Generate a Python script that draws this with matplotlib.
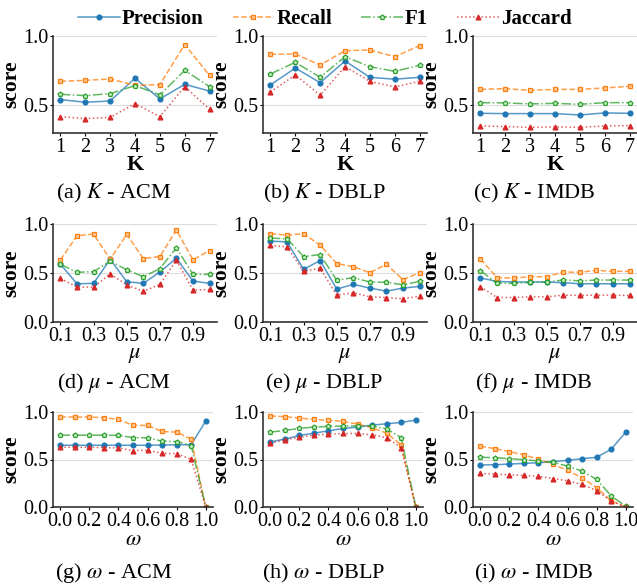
import matplotlib
matplotlib.use("Agg")
import matplotlib.pyplot as plt

plt.rcParams['font.family'] = ['Liberation Serif', 'DejaVu Serif']
plt.rcParams['mathtext.fontset'] = 'stix'

metrics = ['Precision', 'Recall', 'F1', 'Jaccard']

# parameter K (1..7)
k_vals = [1, 2, 3, 4, 5, 6, 7]
k_acm = {
    'Precision': [0.541, 0.522, 0.531, 0.695, 0.546, 0.651, 0.603],
    'Recall':    [0.673, 0.680, 0.690, 0.644, 0.649, 0.938, 0.716],
    'F1':        [0.579, 0.570, 0.584, 0.642, 0.575, 0.752, 0.635],
    'Jaccard':   [0.418, 0.404, 0.413, 0.512, 0.418, 0.635, 0.471],
}
k_dblp = {
    'Precision': [0.647, 0.769, 0.663, 0.820, 0.702, 0.688, 0.702],
    'Recall':    [0.868, 0.870, 0.791, 0.894, 0.899, 0.851, 0.930],
    'F1':        [0.726, 0.810, 0.702, 0.851, 0.779, 0.745, 0.788],
    'Jaccard':   [0.596, 0.719, 0.572, 0.779, 0.673, 0.632, 0.673],
}
k_imdb = {
    'Precision': [0.442, 0.440, 0.440, 0.440, 0.430, 0.445, 0.442],
    'Recall':    [0.615, 0.620, 0.608, 0.615, 0.615, 0.625, 0.637],
    'F1':        [0.519, 0.517, 0.510, 0.514, 0.507, 0.519, 0.519],
    'Jaccard':   [0.351, 0.346, 0.341, 0.344, 0.341, 0.351, 0.353],
}

# parameter mu (0.1..1.0)
mu_vals = [0.1, 0.2, 0.3, 0.4, 0.5, 0.6, 0.7, 0.8, 0.9, 1.0]
mu_acm = {
    'Precision': [0.589, 0.390, 0.394, 0.640, 0.411, 0.394, 0.510, 0.651, 0.418, 0.394],
    'Recall':    [0.634, 0.880, 0.897, 0.640, 0.894, 0.647, 0.668, 0.938, 0.634, 0.729],
    'F1':        [0.589, 0.507, 0.514, 0.620, 0.534, 0.462, 0.545, 0.757, 0.486, 0.486],
    'Jaccard':   [0.445, 0.356, 0.356, 0.490, 0.380, 0.312, 0.384, 0.630, 0.325, 0.332],
}
mu_dblp = {
    'Precision': [0.825, 0.818, 0.538, 0.627, 0.336, 0.384, 0.346, 0.315, 0.346, 0.363],
    'Recall':    [0.901, 0.887, 0.901, 0.784, 0.596, 0.565, 0.503, 0.589, 0.432, 0.503],
    'F1':        [0.856, 0.849, 0.668, 0.688, 0.428, 0.452, 0.408, 0.404, 0.380, 0.414],
    'Jaccard':   [0.781, 0.767, 0.517, 0.548, 0.274, 0.298, 0.257, 0.250, 0.236, 0.264],
}
mu_imdb = {
    'Precision': [0.449, 0.414, 0.408, 0.408, 0.408, 0.401, 0.390, 0.390, 0.390, 0.390],
    'Recall':    [0.644, 0.452, 0.449, 0.462, 0.462, 0.510, 0.507, 0.527, 0.517, 0.517],
    'F1':        [0.524, 0.394, 0.394, 0.404, 0.408, 0.428, 0.421, 0.428, 0.428, 0.428],
    'Jaccard':   [0.360, 0.250, 0.250, 0.257, 0.257, 0.274, 0.271, 0.274, 0.274, 0.271],
}

# parameter omega (0.0..1.0)
om_vals = [0.0, 0.1, 0.2, 0.3, 0.4, 0.5, 0.6, 0.7, 0.8, 0.9, 1.0]
om_acm = {
    'Precision': [0.650, 0.650, 0.650, 0.650, 0.650, 0.650, 0.650, 0.652, 0.655, 0.656, 0.905],
    'Recall':    [0.947, 0.947, 0.947, 0.940, 0.922, 0.859, 0.859, 0.795, 0.788, 0.714, 0.0],
    'F1':        [0.756, 0.756, 0.756, 0.756, 0.753, 0.731, 0.728, 0.693, 0.689, 0.647, 0.0],
    'Jaccard':   [0.629, 0.629, 0.629, 0.625, 0.622, 0.594, 0.597, 0.565, 0.562, 0.502, 0.0],
}
om_dblp = {
    'Precision': [0.686, 0.714, 0.753, 0.777, 0.802, 0.827, 0.841, 0.862, 0.876, 0.890, 0.915],
    'Recall':    [0.958, 0.951, 0.936, 0.922, 0.912, 0.901, 0.873, 0.834, 0.777, 0.654, 0.0],
    'F1':        [0.788, 0.806, 0.827, 0.841, 0.848, 0.852, 0.855, 0.852, 0.823, 0.731, 0.0],
    'Jaccard':   [0.671, 0.707, 0.735, 0.756, 0.767, 0.774, 0.774, 0.760, 0.731, 0.625, 0.0],
}
om_imdb = {
    'Precision': [0.442, 0.445, 0.452, 0.459, 0.466, 0.477, 0.491, 0.509, 0.523, 0.608, 0.788],
    'Recall':    [0.640, 0.615, 0.583, 0.548, 0.502, 0.449, 0.385, 0.307, 0.205, 0.064, 0.0],
    'F1':        [0.523, 0.519, 0.509, 0.498, 0.484, 0.470, 0.431, 0.378, 0.290, 0.117, 0.007],
    'Jaccard':   [0.353, 0.346, 0.339, 0.332, 0.322, 0.300, 0.276, 0.237, 0.173, 0.064, 0.0],
}

captions = [
    ['(a) $K$ - ACM', '(b) $K$ - DBLP', '(c) $K$ - IMDB'],
    ['(d) $\\mu$ - ACM', '(e) $\\mu$ - DBLP', '(f) $\\mu$ - IMDB'],
    ['(g) $\\omega$ - ACM', '(h) $\\omega$ - DBLP', '(i) $\\omega$ - IMDB'],
]

styles = {
    'Precision': dict(color='#1f77b4', ls='-', marker='o', mfc='#1f77b4'),
    'Recall':    dict(color='#ff7f0e', ls='--', marker='s', mfc='#ffc999'),
    'F1':        dict(color='#2ca02c', ls='-.', marker='p', mfc='#c8ecc8'),
    'Jaccard':   dict(color='#d62728', ls=':', marker='^', mfc='#d62728'),
}

rows = [
    (k_vals, [k_acm, k_dblp, k_imdb], 'K', (0.3, 1.0), [0.5, 1.0], [1, 2, 3, 4, 5, 6, 7]),
    (mu_vals, [mu_acm, mu_dblp, mu_imdb], '$\\mu$', (0.0, 1.0), [0.0, 0.5, 1.0], [0.1, 0.3, 0.5, 0.7, 0.9]),
    (om_vals, [om_acm, om_dblp, om_imdb], '$\\omega$', (0.0, 1.0), [0.0, 0.5, 1.0], [0.0, 0.2, 0.4, 0.6, 0.8, 1.0]),
]

W, H = 637, 585
fig = plt.figure(figsize=(W / 100, H / 100), dpi=100)

lefts = [53, 263, 473]
rows_px = [(36, 133), (224, 322), (412, 507)]
row_w = [164, 164, 160]
cap_y = [193, 383, 573]

handles = []
for r, (xs, datas, xlab, ylim, yt, xt) in enumerate(rows):
    top, bot = rows_px[r]
    for c in range(3):
        ax = fig.add_axes([lefts[c] / W, 1 - bot / H, row_w[r] / W, (bot - top) / H])
        data = datas[c]
        for m in metrics:
            st = styles[m]
            col = matplotlib.colors.to_rgba(st['color'], 0.75)
            ln, = ax.plot(xs, data[m], color=col, ls=st['ls'], lw=1.1,
                          marker=st['marker'], ms=3.5, mfc=st['mfc'],
                          mec=st['color'], mew=0.9, label=m)
            if r == 0 and c == 0:
                handles.append(ln)
        ax.set_ylim(*ylim)
        ax.set_yticks(yt)
        ax.set_xticks(xt)
        ax.set_xticklabels([str(v) for v in xt])
        ax.tick_params(labelsize=14.5, length=2.5, width=0.8, pad=1, colors='black')
        ax.grid(axis='y', color='#dddddd', lw=0.8)
        ax.set_axisbelow(True)
        for s in ['top', 'right']:
            ax.spines[s].set_visible(False)
        for s in ['left', 'bottom']:
            ax.spines[s].set_color('#333333')
            ax.spines[s].set_linewidth(1.2)
        ax.set_ylabel('score', fontsize=15.5, fontweight='bold', labelpad=1)
        if r == 0:
            ax.set_xlabel(xlab, fontsize=16, fontweight='bold', labelpad=-1)
        else:
            ax.set_xlabel(xlab, fontsize=16, labelpad=0)
        fig.text((lefts[c] + 61) / W, 1 - cap_y[r] / H, captions[r][c],
                 fontsize=16, ha='center', va='center')

fig.legend(handles=handles, labels=metrics, loc='center', ncol=4,
           bbox_to_anchor=(0.51, 1 - 19 / H), frameon=False,
           prop={'weight': 'bold', 'size': 15}, handlelength=2.0,
           handletextpad=0.1, columnspacing=1.4, borderaxespad=0)

fig.savefig('out.png', dpi=100)
